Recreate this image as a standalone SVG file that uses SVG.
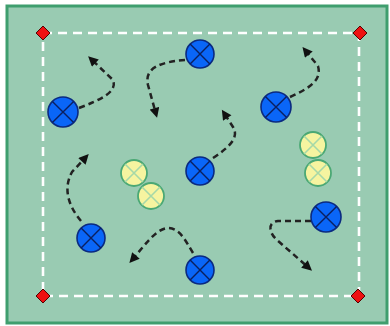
<svg xmlns="http://www.w3.org/2000/svg" width="390" height="326" viewBox="0 0 390 326">
<style>
.field{fill:#99cbb2;stroke:#3f9e6e;stroke-width:3}
.bound{fill:none;stroke:#ffffff;stroke-width:2.6;stroke-dasharray:9 6}
.cone{fill:#ee1111;stroke:#550000;stroke-width:1}
.pb circle{fill:#0a66f8;stroke:#0b2a80;stroke-width:1.6}
.pb path{stroke:#0b2060;stroke-width:1.4;fill:none}
.ball circle{fill:#f6f4a0;stroke:#4aa874;stroke-width:1.8}
.ball path{stroke:#a6d8a8;stroke-width:1.6;fill:none}
.mv{fill:none;stroke:#222222;stroke-width:2.5;stroke-dasharray:6 4;marker-end:url(#ah)}
</style>
<defs>
<marker id="ah" viewBox="0 0 10 10" refX="6" refY="5" markerWidth="11" markerHeight="10" markerUnits="userSpaceOnUse" orient="auto">
<path d="M0,0 L10,5 L0,10 z" fill="#111111"/>
</marker>
</defs>
<rect width="390" height="326" fill="#ffffff"/>
<rect class="field" x="7" y="6" width="380" height="317"/>
<rect class="bound" x="43" y="33" width="316" height="263"/>
<g id="cones">
<path class="cone" d="M43,26 L50,33 L43,40 L36,33 z"/>
<path class="cone" d="M360,26 L367,33 L360,40 L353,33 z"/>
<path class="cone" d="M43,289 L50,296 L43,303 L36,296 z"/>
<path class="cone" d="M358,289 L365,296 L358,303 L351,296 z"/>
</g>
<g id="connectors">
<path class="mv" d="M79,108 C100,100 118,92 113,80 L91,59"/>
<path class="mv" d="M185,60 C160,62 144,68 148,85 L156,114"/>
<path class="mv" d="M290,97 C310,88 322,80 318,66 L305,50"/>
<path class="mv" d="M213,158 C228,148 240,138 233,127 L224,113"/>
<path class="mv" d="M81,221 C70,208 62,190 72,172 L86,157"/>
<path class="mv" d="M193,253 C185,240 180,228 167,228 C155,230 145,245 132,260"/>
<path class="mv" d="M311,221 L278,221 C268,222 268,232 277,240 L309,268"/>
</g>
<g id="p1" class="pb"><circle cx="63" cy="112" r="15"/><path d="M52.4,101.4 L73.6,122.6 M73.6,101.4 L52.4,122.6"/></g>
<g id="p2" class="pb"><circle cx="200" cy="54" r="14"/><path d="M190.1,44.1 L209.9,63.9 M209.9,44.1 L190.1,63.9"/></g>
<g id="p3" class="pb"><circle cx="276" cy="107" r="15"/><path d="M265.4,96.4 L286.6,117.6 M286.6,96.4 L265.4,117.6"/></g>
<g id="p4" class="pb"><circle cx="200" cy="171" r="14"/><path d="M190.1,161.1 L209.9,180.9 M209.9,161.1 L190.1,180.9"/></g>
<g id="p5" class="pb"><circle cx="326" cy="217" r="15"/><path d="M315.4,206.4 L336.6,227.6 M336.6,206.4 L315.4,227.6"/></g>
<g id="p6" class="pb"><circle cx="91" cy="238" r="14"/><path d="M81.1,228.1 L100.9,247.9 M100.9,228.1 L81.1,247.9"/></g>
<g id="p7" class="pb"><circle cx="200" cy="270" r="14"/><path d="M190.1,260.1 L209.9,279.9 M209.9,260.1 L190.1,279.9"/></g>
<g id="b1" class="ball"><circle cx="134" cy="173" r="13"/><path d="M125,164 L143,182 M143,164 L125,182"/></g>
<g id="b2" class="ball"><circle cx="151" cy="196" r="13"/><path d="M142,187 L160,205 M160,187 L142,205"/></g>
<g id="b3" class="ball"><circle cx="313" cy="145" r="13"/><path d="M304,136 L322,154 M322,136 L304,154"/></g>
<g id="b4" class="ball"><circle cx="318" cy="173" r="13"/><path d="M309,164 L327,182 M327,164 L309,182"/></g>
</svg>
